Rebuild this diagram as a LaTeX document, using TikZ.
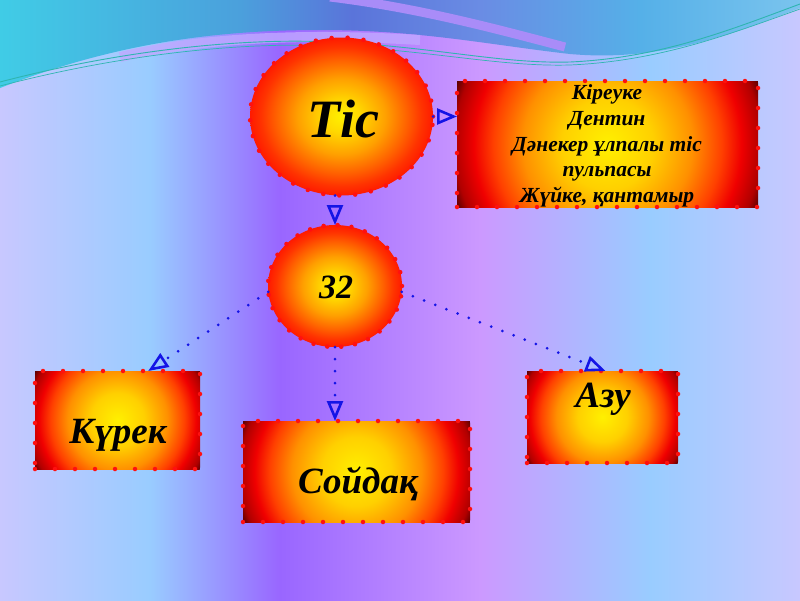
\documentclass[tikz,border=0pt]{standalone}
\usepackage{fontspec}
\setmainfont{Liberation Serif}
\usetikzlibrary{arrows.meta,calc,shapes.geometric}
\definecolor{bgA}{HTML}{C8C8FF}
\definecolor{bgB}{HTML}{99CCFF}
\definecolor{bgC}{HTML}{9966FF}
\definecolor{bgD}{HTML}{CC99FF}
\definecolor{tpA}{HTML}{40CCE6}
\definecolor{tpB}{HTML}{4BA0DC}
\definecolor{tpC}{HTML}{5A74DA}
\definecolor{tpD}{HTML}{6A8CE4}
\definecolor{tpE}{HTML}{55B0E8}
\definecolor{tpF}{HTML}{7AC4EE}
\definecolor{ribbonP}{HTML}{A98CF8}
\definecolor{ribbonL}{HTML}{C0A8FF}
\definecolor{wavet}{HTML}{2FB5B0}
\definecolor{dotred}{HTML}{FF1010}
\definecolor{arrowblue}{HTML}{1414E6}
\definecolor{bY}{HTML}{FFF000}
\definecolor{bY2}{HTML}{FFD800}
\definecolor{bO}{HTML}{FFA000}
\definecolor{bR1}{HTML}{FF6000}
\definecolor{bR2}{HTML}{FF3300}
\definecolor{bR}{HTML}{FF1A00}
\definecolor{xY}{HTML}{FFF000}
\definecolor{xY2}{HTML}{FFD000}
\definecolor{xO}{HTML}{FF9000}
\definecolor{xR1}{HTML}{FF4000}
\definecolor{xR}{HTML}{F00000}
\definecolor{xD}{HTML}{B00000}
\definecolor{xDD}{HTML}{5A0000}
\pgfdeclarehorizontalshading{bgshade}{100bp}{color(0bp)=(bgA); color(25bp)=(bgA); color(34.375bp)=(bgB); color(42.5bp)=(bgC); color(55bp)=(bgD); color(65.625bp)=(bgB); color(75bp)=(bgA); color(100bp)=(bgA)}
\pgfdeclarehorizontalshading{topshade}{100bp}{color(0bp)=(tpA); color(25bp)=(tpA); color(40bp)=(tpB); color(47bp)=(tpC); color(55bp)=(tpD); color(65bp)=(tpE); color(75bp)=(tpF); color(100bp)=(tpF)}
\pgfdeclareradialshading{ballshade}{\pgfpoint{0bp}{0bp}}{color(0bp)=(bY); color(5bp)=(bY2); color(12bp)=(bO); color(18bp)=(bR1); color(22bp)=(bR2); color(25bp)=(bR); color(50bp)=(bR)}
\pgfdeclareradialshading{boxshade}{\pgfpoint{0bp}{0bp}}{color(0bp)=(xY); color(7bp)=(xY2); color(13bp)=(xO); color(17.5bp)=(xR1); color(20.5bp)=(xR); color(23.5bp)=(xD); color(25bp)=(xDD); color(50bp)=(xDD)}
\begin{document}
\begin{tikzpicture}[x=1pt,y=-1pt,
  ball/.style={ellipse, inner sep=0pt, outer sep=0pt, shade, shading=ballshade,
    draw=dotred, line width=4.5pt, line cap=round, dash pattern=on 0pt off 16pt},
  box/.style={rectangle, inner sep=0pt, outer sep=0pt,
    draw=dotred, line width=4.5pt, line cap=round, dash pattern=on 0pt off 20pt,
    path picture={\shade[shading=boxshade] let \p1=(path picture bounding box.center),
      \p2=(path picture bounding box.north east), \n1={veclen(\x2-\x1,\y2-\y1)} in (\p1) circle (\n1);}},
  lbl/.style={font=\bfseries\itshape\fontsize{37}{44}\selectfont, inner sep=0pt, anchor=base},
  conn/.style={draw=arrowblue, line width=3pt, line cap=round, dash pattern=on 0pt off 12pt,
    -{Triangle[open, length=20pt, width=16pt, line width=2.6pt]}}]
\useasboundingbox (0,0) rectangle (800,600);
% background
\shade[shading=bgshade] (0,0) rectangle (800,600);
\shade[shading=topshade] (0,0) -- (0,88) .. controls (110,45) and (210,30) .. (320,30)
  .. controls (420,30) and (490,45) .. (570,54) .. controls (660,62) and (730,35) .. (800,8) -- (800,0) -- cycle;
\draw[ribbonL, line width=10pt, opacity=0.8] (120,57) .. controls (200,38) and (300,33) .. (420,40);
\draw[ribbonP, line width=9pt] (330,-3) .. controls (420,8) and (500,30) .. (565,47);
\draw[wavet, line width=0.9pt] (0,82) .. controls (130,48) and (250,38) .. (330,42)
  .. controls (430,46) and (500,64) .. (570,62) .. controls (660,58) and (730,30) .. (800,4);
\draw[wavet, line width=0.7pt] (0,86) .. controls (130,52) and (250,42) .. (330,46)
  .. controls (430,50) and (500,67) .. (570,65) .. controls (660,61) and (730,34) .. (800,9);
% nodes
\node[ball, minimum width=183pt, minimum height=158pt] (tis) at (341.5,116.5) {};
\node[ball, minimum width=134pt, minimum height=122pt, dash pattern=on 0pt off 14pt] (n32) at (335,286) {};
\node[box, minimum width=301pt, minimum height=126pt] (info) at (607.5,144) {};
\node[box, minimum width=165pt, minimum height=98pt] (kurek) at (117.5,420) {};
\node[box, minimum width=227pt, minimum height=101pt] (soidaq) at (356.5,471.5) {};
\node[box, minimum width=151pt, minimum height=92pt] (azu) at (602.5,417) {};
% labels
\node[lbl, font=\bfseries\itshape\fontsize{54}{60}\selectfont] (tisT) at (343,137) {Тіс};
\node[lbl, font=\bfseries\itshape\fontsize{34}{40}\selectfont] (n32T) at (336,298) {32};
\node[lbl] (kurekT) at (118,443) {Күрек};
\node[lbl] (soidaqT) at (358,493) {Сойдақ};
\node[lbl] (azuT) at (603,407) {Азу};
\node[font=\bfseries\itshape\fontsize{21.5}{25.7}\selectfont, align=center, inner sep=0pt, anchor=north] (infoT) at (607,84.5)
  {Кіреуке\\Дентин\\Дәнекер ұлпалы тіс\\пульпасы\\Жүйке, қантамыр};
% connectors
\draw[conn] (tis.east) -- (tis.east -| info.west);
\draw[conn] (n32.north |- tis.south) -- (n32.north);
\draw[conn] (n32.185) -- ($(kurek.north west)!0.686!(kurek.north east)$);
\draw[conn] (n32.south) -- (n32.south |- soidaq.north);
\draw[conn] (n32.-5) -- ($(azu.north west)!0.52!(azu.north east)$);
\end{tikzpicture}
\end{document}
